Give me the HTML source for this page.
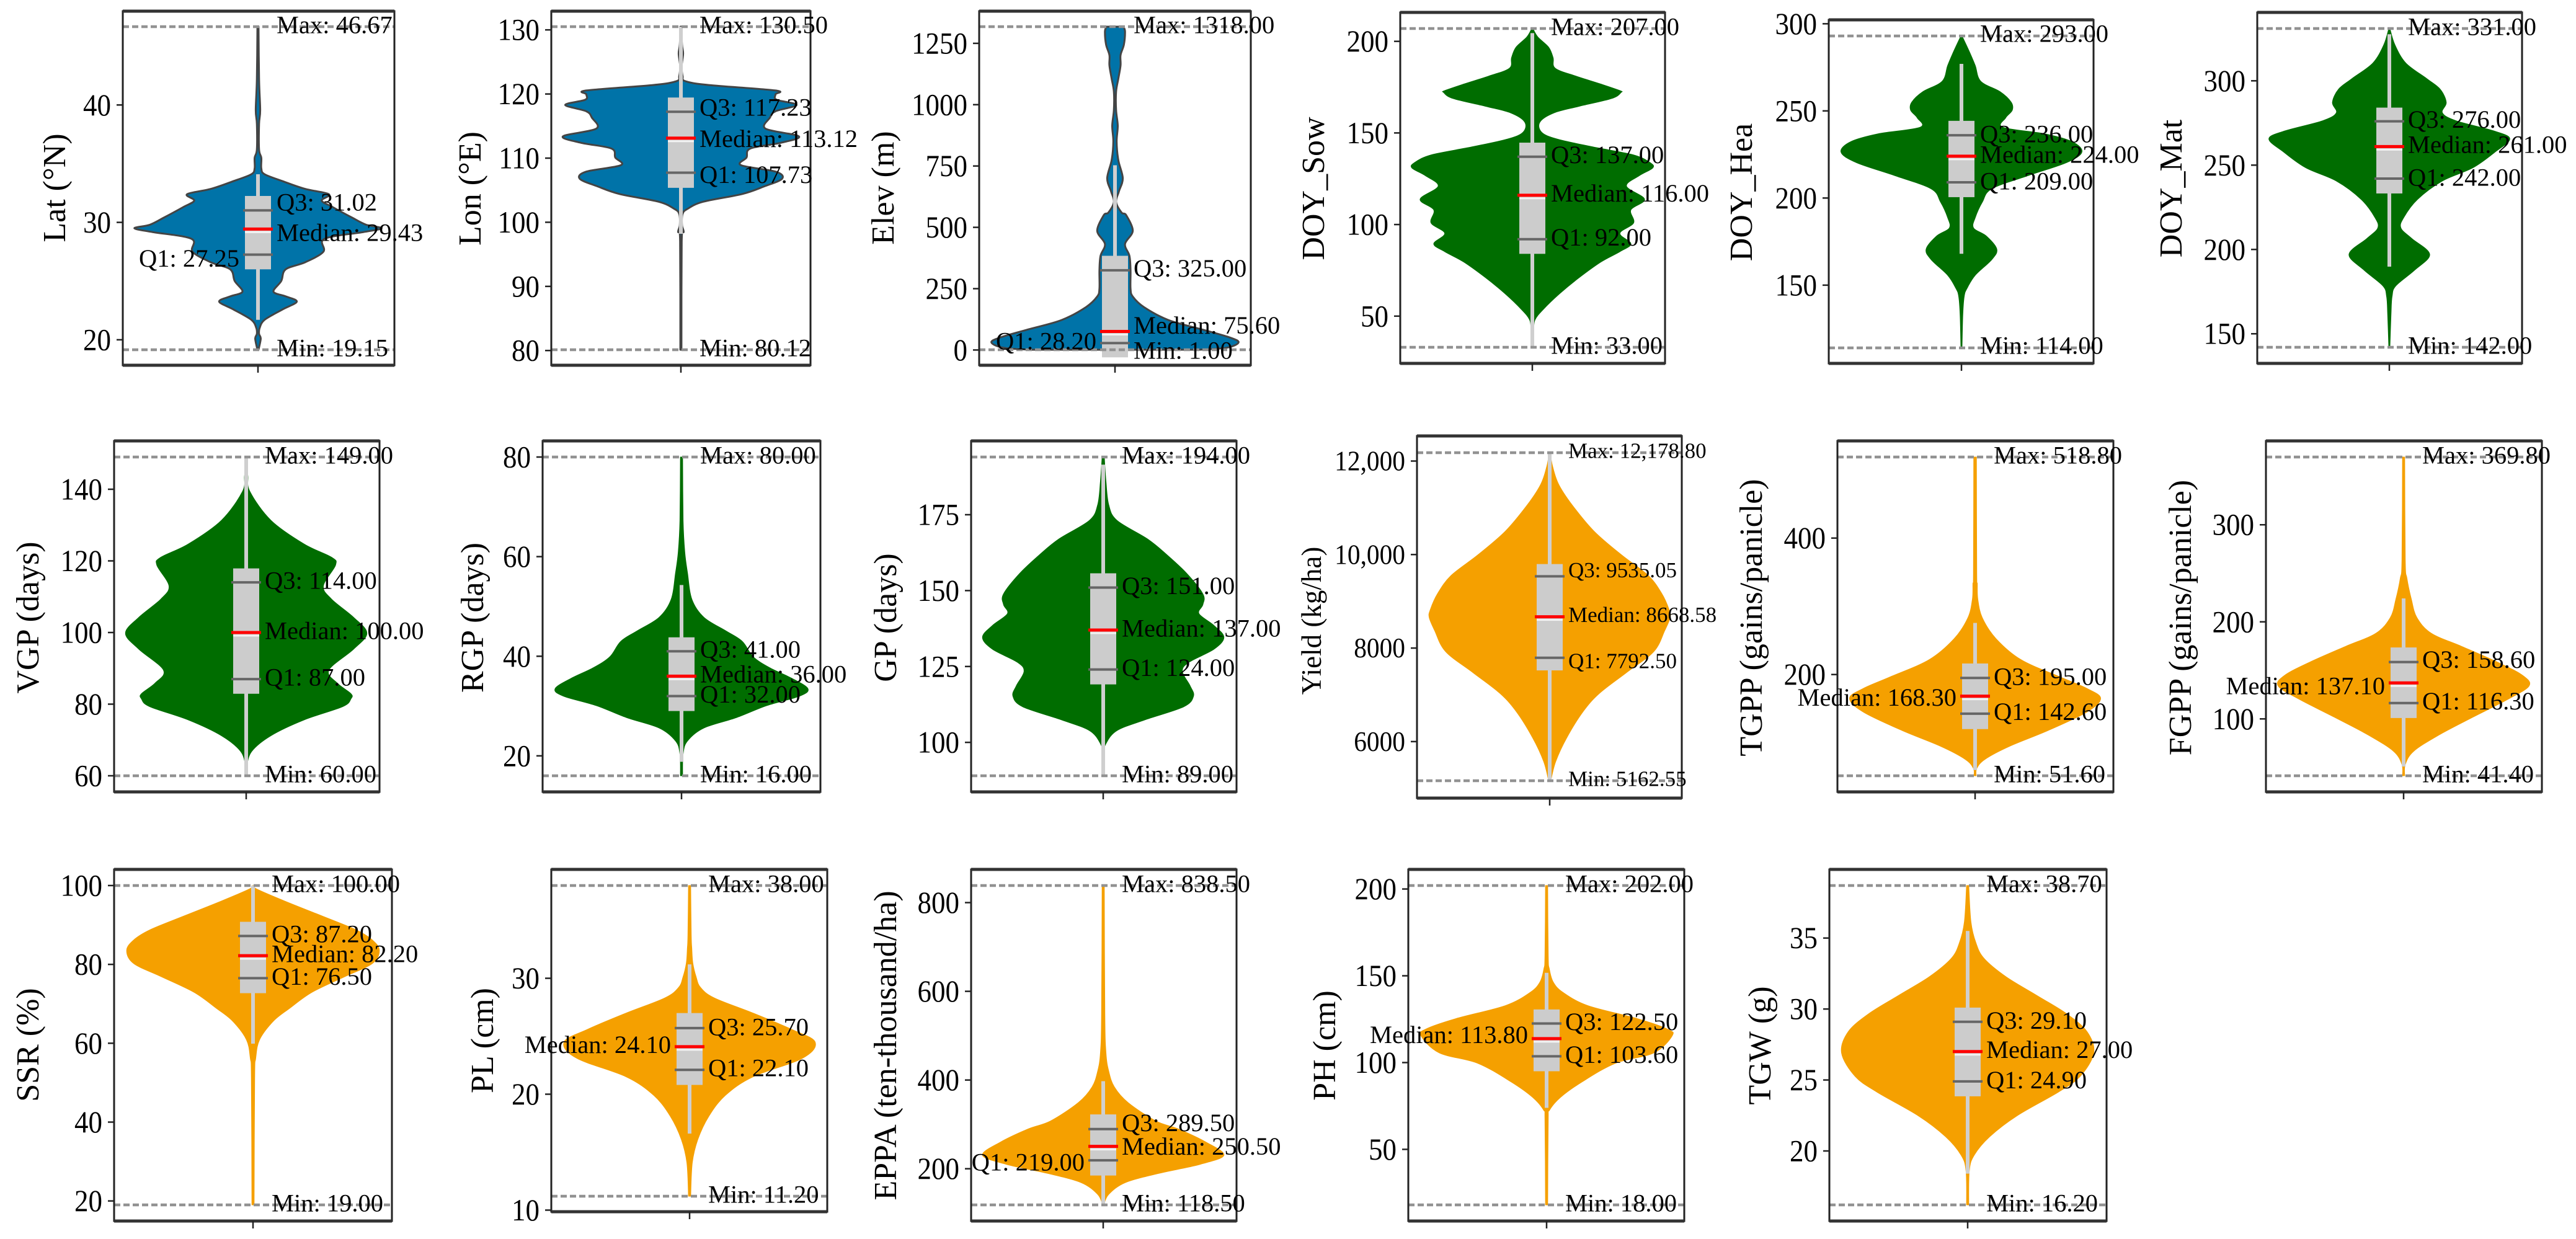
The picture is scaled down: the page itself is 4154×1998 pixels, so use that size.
<!DOCTYPE html>
<html lang="en">
<head>
<meta charset="utf-8">
<title>Violin plots of crop traits</title>
<style>
html,body{margin:0;padding:0;background:#fff;}
#chart{display:block;width:4154px;height:1998px;background:#fff;}
text{font-family:"Liberation Serif","Times New Roman",serif;fill:#000;}
</style>
</head>
<body>
<svg id="chart" xmlns="http://www.w3.org/2000/svg" width="4154" height="1998" viewBox="0 0 4154 1998"></svg>
<script>
// ---- DATA: stats = [min, q1, median, q3, max]; box = [low, high]; whisker = [low, high]
const latLevels=[46.67,42.2,39.56,38.4,36.2,35.5,34.6,34.1,33.5,32.85,32.4,31.85,31.3,30.4,29.8,29.5,29.17,28.6,27.5,26.6,26,25,24.1,23.7,23.25,22.6,21.7,21,20.5,20.1,19.15];
const latDensity=[1,2,4,2,2,6,6,12,45,85,128,115,135,170,195,223,190,120,118,85,50,42,28,50,70,45,12,3,2,5,0.5];
const latStats=[19.15,27.25,29.43,31.02,46.67];
const latBox=[26,32.25];
const latWhisker=[21.7,34.1];
const latTicks=[20,30,40];

const lonLevels=[130.5,127.7,126.3,124.4,122.8,122,121.4,120.55,119.94,119.1,118.3,117.3,116.3,114.6,113.4,112.4,111.5,110.1,108.9,107.9,106.8,105.6,104.4,103.2,102.1,101.3,99.5,98.5,97,80.12];
const lonDensity=[1,2,4,1.5,3,8,50,170,170,172,208,170,160,152,212,180,125,118,108,170,182,150,110,40,12,3,2,5,1.5,1];
const lonStats=[80.12,107.73,113.12,117.23,130.5];
const lonBox=[105.37,119.45];
const lonWhisker=[98.2,130.5];
const lonTicks=[80,90,100,110,120,130];

const elevLevels=[1318,1299,1245,1202,1160,1106,1053,978,914,849,774,700,646,603,560,550,486,432,384,325,250,218,175,122,84,52,31,9,1];
const elevDensity=[15,18,16,10,10,6,2,2,5,3,6,14,7,2,12,20,32,18,26,28,28,32,52,96,156,205,222,200,150];
const elevStats=[1,28.2,75.6,325,1318];
const elevBox=[-30,384];
const elevWhisker=[1,753];
const elevTicks=[0,250,500,750,1000,1250];

const sowLevels=[207,202.4,196.7,191,185.3,181,176.7,173.1,172.1,168.8,164.5,161,156,150.4,146.7,142.4,138,133.8,130.9,126.6,120.9,113.8,108,100.9,95.2,89.5,85.2,79.5,70.9,62.3,53.7,48,42.3,33];
const sowDensity=[0.5,10,30,38,42,80,125,160,162,145,85,40,14,17,45,110,185,215,220,195,172,205,180,185,160,180,160,125,85,50,20,5,2.5,1];
const sowStats=[33,92,116,137,207];
const sowBox=[84,144.7];
const sowWhisker=[33,204.5];
const sowTicks=[50,100,150,200];

const heaLevels=[293,283.5,276,267,261,255,250.4,246,240.6,236.9,232.4,226.4,220.3,212.8,205.3,197.8,188.8,182.8,178.2,170.7,164.7,155.7,148.1,143.6,133,114];
const heaDensity=[0.5,15,25,35,70,90,92,80,75,150,200,218,190,120,55,38,25,22,45,64,55,25,10,5,2.5,1];
const heaStats=[114,209,224,236,293];
const heaBox=[200.5,244.3];
const heaWhisker=[168,277];
const heaTicks=[150,200,250,300];

const matLevels=[331,321.4,310.5,301.2,295,287.2,281,276.3,270.1,265.5,257.7,248.4,240.6,229.7,218.9,212.7,206.4,197.1,187.8,178.5,172.3,161.4,142];
const matDensity=[0.5,10,30,68,92,103,96,121,191,218,191,151,96,51,26,21,41,73,46,12,5,3,1];
const matStats=[142,242,261,276,331];
const matBox=[233.2,284.1];
const matWhisker=[189.8,327.6];
const matTicks=[150,200,250,300];

const vgpLevels=[149,148.1,143.7,139.3,131.3,124.7,121,118.8,113,109.3,104.2,99.8,95.4,89.5,85.9,82.9,81.5,79.3,75.6,71.2,66.8,62.4,60];
const vgpDensity=[0.5,1,3,7,45,105,155,162,140,155,195,219,195,150,165,190,190,175,105,45,10,1,0.5];
const vgpStats=[60,87,100,114,149];
const vgpBox=[82.9,117.9];
const vgpWhisker=[60,149];
const vgpTicks=[60,80,100,120,140];

const rgpLevels=[80,67.2,60.9,56.7,51.4,47.8,45.1,43,39.9,37.7,35.6,33.5,32,30.1,27.7,25.6,23,20.4,16];
const rgpDensity=[2,3,6,11,19,41,81,111,131,161,201,231,216,156,101,41,11,3,2];
const rgpStats=[16,32,36,41,80];
const rgpBox=[29,43.8];
const rgpWhisker=[18.8,54.3];
const rgpTicks=[20,40,60,80];

const gpLevels=[194,186,178.3,173.1,167,161.8,155.8,148.9,145.4,142.4,138.5,134.6,130.7,126.4,123.4,118.6,115.2,111.7,107.4,103.9,99.6,96.2,89];
const gpDensity=[2,5,10,25,80,115,150,180,180,173,200,218,200,155,143,157,163,145,75,25,5,1,1];
const gpStats=[89,124,137,151,194];
const gpBox=[119.1,155.7];
const gpWhisker=[89,191.5];
const gpTicks=[100,125,150,175];

const yieldLevels=[12178.8,11904,11512,11064,10503,9999,9551,9158,8822,8654,8374,7925,7477,7029,6637,6076,5572,5162.55];
const yieldDensity=[0.5,5,16,41,81,131,181,206,219,221,211,191,141,91,61,31,11,2];
const yieldStats=[5162.55,7792.5,8668.58,9535.05,12178.8];
const yieldBox=[7522,9797];
const yieldWhisker=[5162.55,12178.8];
const yieldTicks=[6000,8000,10000,12000];

const tgppLevels=[518.8,348.8,333,310.4,283.4,252.6,221.9,196.9,179.6,165,145,118.1,95,75.8,62.3,51.6];
const tgppDensity=[2.5,3,4,5,13,38,83,153,203,228,203,133,63,18,3,2];
const tgppStats=[51.6,142.6,168.3,195,518.8];
const tgppBox=[120,216.2];
const tgppWhisker=[60,275.7];
const tgppTicks=[200,400];

const fgppLevels=[369.8,263.9,244.9,223.3,204.4,188.2,174.7,158.4,144.9,134.1,120.6,101.7,82.8,66.6,53,41.4];
const fgppDensity=[2,3,6,14,24,50,105,170,215,227,190,125,62,18,3,2];
const fgppStats=[41.4,116.3,137.1,158.6,369.8];
const fgppBox=[100.9,173.6];
const fgppWhisker=[50.9,224.1];
const fgppTicks=[100,200,300];

const ssrLevels=[100,99.1,96.1,92.2,88.8,86.2,83.5,80.2,76.9,72.9,68.9,65.6,60.9,56.2,50.9,19];
const ssrDensity=[1,7,57,127,187,217,230,217,167,107,67,37,12,5,3,2];
const ssrStats=[19,76.5,82.2,87.2,100];
const ssrBox=[72.7,90.8];
const ssrWhisker=[59.9,100];
const ssrTicks=[20,40,60,80,100];

const plLevels=[38,33.75,32.6,31.3,30.1,29.2,28.3,27,25.6,24.5,23.1,21.5,19.9,18.1,16.1,14.1,11.2];
const plDensity=[2,3,4,6,12,20,45,115,185,228,205,115,65,35,15,5,2];
const plStats=[11.2,22.1,24.1,25.7,38];
const plBox=[20.8,27];
const plWhisker=[16.6,31.2];
const plTicks=[10,20,30];

const eppaLevels=[838.5,550,461.4,420,384.5,349,307.7,290,260.4,230.8,210,189.4,168.8,142.2,118.5];
const eppaDensity=[2,3,5,10,20,45,95,135,185,218,175,100,40,10,1];
const eppaStats=[118.5,219,250.5,289.5,838.5];
const eppaBox=[184.7,322.5];
const eppaWhisker=[115.5,397.5];
const eppaTicks=[200,400,600,800];

const phLevels=[202,161.5,154,146.4,140.4,132.8,125.3,119.2,115.4,105.6,99.6,89,79.9,72.4,67.9,18];
const phDensity=[2,3,5,12,30,75,165,220,228,195,125,65,25,5,3,2];
const phStats=[18,103.6,113.8,122.5,202];
const phBox=[95,130.6];
const phWhisker=[73.9,151.7];
const phTicks=[50,100,150,200];

const tgwLevels=[38.7,36.15,34.67,33.56,32.27,30.98,29.68,28.39,26.91,25.25,24.14,22.48,21,19.71,18.6,16.2];
const tgwDensity=[2,6,15,30,70,125,180,218,230,205,165,90,40,12,3,2];
const tgwStats=[16.2,24.9,27,29.1,38.7];
const tgwBox=[23.85,30.1];
const tgwWhisker=[18.4,35.5];
const tgwTicks=[20,25,30,35];

// ---- COLOURS
const BLUE='#0073a8', GREEN='#006d00', ORANGE='#f5a000';

// ---- LAYOUT: axes box in px, plus px anchors for the y axis (scale top/bottom)
const R1={t:18,b:589,a:43,c:564}, R1b={t:20,b:586,a:46,c:560}, R2={t:711,b:1277,a:737,c:1251}, R3={t:1402,b:1969,a:1428,c:1943};
const panels=[
 {id:'lat',title:'Lat (°N)',color:BLUE,stroke:true,x0:198,x1:636,cx:416,row:R1,tx:89,ty:303,lv:latLevels,de:latDensity,st:latStats,bx:latBox,wh:latWhisker,ti:latTicks,dom:[19.15,46.67],q1L:true,off:[-3,6,6,-13,-3]},
 {id:'lon',title:'Lon (°E)',color:BLUE,stroke:true,x0:889,x1:1307,cx:1098,row:R1,tx:759,ty:304,lv:lonLevels,de:lonDensity,st:lonStats,bx:lonBox,wh:lonWhisker,ti:lonTicks,dom:[80.12,130.5],off:[-3,3,1,-7,-3]},
 {id:'elev',title:'Elev (m)',color:BLUE,stroke:true,x0:1579,x1:2017,cx:1798,row:R1,tx:1425,ty:303,lv:elevLevels,de:elevDensity,st:elevStats,bx:elevBox,wh:elevWhisker,ti:elevTicks,dom:[1,1318],q1L:true,off:[1,-3,-10,-3,-3]},
 {id:'doy-sow',title:'DOY_Sow',color:GREEN,x0:2258,x1:2685,cx:2471,row:R1b,tx:2119,ty:304,lv:sowLevels,de:sowDensity,st:sowStats,bx:sowBox,wh:sowWhisker,ti:sowTicks,dom:[33,207],off:[-3,-3,-3,-3,-3]},
 {id:'doy-hea',title:'DOY_Hea',color:GREEN,x0:2949,x1:3376,cx:3163,row:{t:32,b:586,a:58,c:561},tx:2809,ty:310,lv:heaLevels,de:heaDensity,st:heaStats,bx:heaBox,wh:heaWhisker,ti:heaTicks,dom:[114,293],off:[-4,-2,-3,-2,-4]},
 {id:'doy-mat',title:'DOY_Mat',color:GREEN,x0:3640,x1:4067,cx:3853,row:R1b,tx:3502,ty:304,lv:matLevels,de:matDensity,st:matStats,bx:matBox,wh:matWhisker,ti:matTicks,dom:[142,331],off:[-3,-2,-3,-3,-3]},
 {id:'vgp',title:'VGP (days)',color:GREEN,x0:184,x1:612,cx:397,row:R2,tx:46,ty:996,lv:vgpLevels,de:vgpDensity,st:vgpStats,bx:vgpBox,wh:vgpWhisker,ti:vgpTicks,dom:[60,149],off:[-3,-3,-3,-3,-3]},
 {id:'rgp',title:'RGP (days)',color:GREEN,x0:875,x1:1323,cx:1099,row:R2,tx:763,ty:996,lv:rgpLevels,de:rgpDensity,st:rgpStats,bx:rgpBox,wh:rgpWhisker,ti:rgpTicks,dom:[16,80],off:[-3,-3,-3,-3,-3]},
 {id:'gp',title:'GP (days)',color:GREEN,x0:1566,x1:1994,cx:1779,row:R2,tx:1429,ty:996,lv:gpLevels,de:gpDensity,st:gpStats,bx:gpBox,wh:gpWhisker,ti:gpTicks,dom:[89,194],off:[-3,-3,-3,-3,-3]},
 {id:'yield',title:'Yield (kg/ha)',color:ORANGE,titleSize:45,labelSize:35,x0:2285,x1:2712,cx:2499,row:{t:703,b:1287,a:730,c:1259},tx:2114,ty:1001,lv:yieldLevels,de:yieldDensity,st:yieldStats,bx:yieldBox,wh:yieldWhisker,ti:yieldTicks,tickSize:46,dom:[5162.55,12178.8],off:[-3,5,-3,-10,-3]},
 {id:'tgpp',title:'TGPP (gains/panicle)',color:ORANGE,x0:2963,x1:3408,cx:3185,row:R2,tx:2825,ty:996,lv:tgppLevels,de:tgppDensity,st:tgppStats,bx:tgppBox,wh:tgppWhisker,ti:tgppTicks,dom:[51.6,518.8],medL:true,off:[-3,-3,2,-2,-3]},
 {id:'fgpp',title:'FGPP (gains/panicle)',color:ORANGE,x0:3654,x1:4099,cx:3876,row:R2,tx:3517,ty:996,lv:fgppLevels,de:fgppDensity,st:fgppStats,bx:fgppBox,wh:fgppWhisker,ti:fgppTicks,dom:[41.4,369.8],medL:true,off:[-3,-3,5,-4,-3]},
 {id:'ssr',title:'SSR (%)',color:ORANGE,x0:184,x1:632,cx:408,row:R3,tx:46,ty:1685,lv:ssrLevels,de:ssrDensity,st:ssrStats,bx:ssrBox,wh:ssrWhisker,ti:ssrTicks,dom:[19,100],off:[-3,-3,-3,-3,-3]},
 {id:'pl',title:'PL (cm)',color:ORANGE,x0:889,x1:1334,cx:1112,row:{t:1402,b:1954,a:1428,c:1929},tx:779,ty:1678,lv:plLevels,de:plDensity,st:plStats,bx:plBox,wh:plWhisker,ti:plTicks,dom:[11.2,38],medL:true,off:[-3,-3,-3,-2,-3]},
 {id:'eppa',title:'EPPA (ten-thousand/ha)',color:ORANGE,x0:1566,x1:1994,cx:1779,row:R3,tx:1429,ty:1686,lv:eppaLevels,de:eppaDensity,st:eppaStats,bx:eppaBox,wh:eppaWhisker,ti:eppaTicks,dom:[118.5,838.5],q1L:true,off:[-3,3,0,-10,-3]},
 {id:'ph',title:'PH (cm)',color:ORANGE,x0:2271,x1:2716,cx:2494,row:R3,tx:2137,ty:1686,lv:phLevels,de:phDensity,st:phStats,bx:phBox,wh:phWhisker,ti:phTicks,dom:[18,202],medL:true,off:[-3,-3,-6,-3,-3]},
 {id:'tgw',title:'TGW (g)',color:ORANGE,x0:2950,x1:3397,cx:3173,row:R3,tx:2839,ty:1686,lv:tgwLevels,de:tgwDensity,st:tgwStats,bx:tgwBox,wh:tgwWhisker,ti:tgwTicks,dom:[16.2,38.7],off:[-3,-2,-3,-2,-3]}
];

const NS='http://www.w3.org/2000/svg';
const root=document.getElementById('chart');
function make(tag,attrs,parent){
  const el=document.createElementNS(NS,tag);
  for(const k in attrs){el.setAttribute(k,attrs[k]);}
  parent.appendChild(el);
  return el;
}
function fmt(v){
  const s=v.toFixed(2);
  if(v<10000)return s;
  const p=s.split('.');
  return p[0].replace(/\B(?=(\d{3})+$)/g,',')+'.'+p[1];
}
function fmtTick(v){
  return v>=10000?String(v).replace(/\B(?=(\d{3})+$)/g,','):String(v);
}
function smooth(pts){
  let d='';
  for(let i=0;i<pts.length-1;i++){
    const p0=pts[Math.max(i-1,0)],p1=pts[i],p2=pts[i+1],p3=pts[Math.min(i+2,pts.length-1)];
    const c1x=p1[0]+(p2[0]-p0[0])/6,c1y=p1[1]+(p2[1]-p0[1])/6;
    const c2x=p2[0]-(p3[0]-p1[0])/6,c2y=p2[1]-(p3[1]-p1[1])/6;
    d+=' C'+c1x.toFixed(1)+' '+c1y.toFixed(1)+' '+c2x.toFixed(1)+' '+c2y.toFixed(1)+' '+p2[0].toFixed(1)+' '+p2[1].toFixed(1);
  }
  return d;
}
function drawPanel(p){
  const g=make('g',{},root);
  
  
  const yScale=v=>p.row.a+(p.dom[1]-v)/(p.dom[1]-p.dom[0])*(p.row.c-p.row.a);
  const maxD=Math.max(...p.de);
  const wScale=d=>Math.max(0.9,d/maxD*0.455*(p.x1-p.x0));

  // violin body
  const right=p.lv.map((v,i)=>[p.cx+wScale(p.de[i]),yScale(v)]);
  const left=p.lv.map((v,i)=>[p.cx-wScale(p.de[i]),yScale(v)]).reverse();
  const dPath='M'+right[0][0].toFixed(1)+' '+right[0][1].toFixed(1)+smooth(right)+' L'+left[0][0].toFixed(1)+' '+left[0][1].toFixed(1)+smooth(left)+' Z';
  const violin=make('path',{d:dPath,fill:p.color,stroke:p.stroke?'#444':p.color,'stroke-width':p.stroke?3:1,'stroke-linejoin':'round'},g);
  
  

  // whisker
  const whisker=make('line',{x1:p.cx,x2:p.cx,y1:yScale(p.wh[1]),y2:yScale(p.wh[0]),stroke:'#cfcfcf','stroke-width':6},g);
  
  

  // box
  const box=make('rect',{x:p.cx-21,width:42,y:yScale(p.bx[1]),height:yScale(p.bx[0])-yScale(p.bx[1]),fill:'#cccccc'},g);
  
  

  // quartile lines
  const q1Line=make('line',{x1:p.cx-24,x2:p.cx+24,y1:yScale(p.st[1]),y2:yScale(p.st[1]),stroke:'#666','stroke-width':4},g);
  
  
  const q3Line=make('line',{x1:p.cx-24,x2:p.cx+24,y1:yScale(p.st[3]),y2:yScale(p.st[3]),stroke:'#666','stroke-width':4},g);
  
  
  const halo=make('line',{x1:p.cx-21,x2:p.cx+21,y1:yScale(p.st[2])+5,y2:yScale(p.st[2])+5,stroke:'#f2f2f2','stroke-width':3},g);
  
  
  const medLine=make('line',{x1:p.cx-24,x2:p.cx+24,y1:yScale(p.st[2]),y2:yScale(p.st[2]),stroke:'#ff0000','stroke-width':5},g);
  
  

  // dashed min / max lines
  const maxLine=make('line',{x1:p.x0,x2:p.x1,y1:yScale(p.st[4]),y2:yScale(p.st[4]),stroke:'#929292','stroke-width':4.5,'stroke-dasharray':'10 5'},g);
  
  
  const minLine=make('line',{x1:p.x0,x2:p.x1,y1:yScale(p.st[0]),y2:yScale(p.st[0]),stroke:'#929292','stroke-width':4.5,'stroke-dasharray':'10 5'},g);
  
  

  // axes frame (top and bottom spines read heavier than the sides)
  const frame=make('rect',{x:p.x0,y:p.row.t,width:p.x1-p.x0,height:p.row.b-p.row.t,fill:'none',stroke:'#222','stroke-width':3},g);
  
  
  const topSpine=make('line',{x1:p.x0,x2:p.x1,y1:p.row.t,y2:p.row.t,stroke:'#333','stroke-width':5},g);
  
  
  const bottomSpine=make('line',{x1:p.x0,x2:p.x1,y1:p.row.b,y2:p.row.b,stroke:'#333','stroke-width':5},g);
  
  

  // ticks
  p.ti.forEach(function(t){
    const y=yScale(t);
    const mark=make('line',{x1:p.x0-10,x2:p.x0,y1:y,y2:y,stroke:'#222','stroke-width':2.5},g);
    
    
    const size=p.tickSize||50;
    const lab=make('text',{'text-anchor':'end','font-size':size,transform:'translate('+(p.x0-19)+','+(y+size*0.33)+') scale(0.9,1)'},g);
    lab.textContent=fmtTick(t);
    
    
  });
  const xTick=make('line',{x1:p.cx,x2:p.cx,y1:p.row.b,y2:p.row.b+12,stroke:'#222','stroke-width':2.5},g);
  
  

  // y-axis title
  const title=make('text',{'text-anchor':'middle','font-size':p.titleSize||52,transform:'translate('+(p.tx+16)+','+p.ty+') rotate(-90)'},g);
  title.textContent=p.title;
  
  

  // value labels
  const names=['Min','Q1','Median','Q3','Max'];
  const size=p.labelSize||40.5;
  names.forEach(function(n,i){
    const isLeft=(n==='Q1'&&p.q1L)||(n==='Median'&&p.medL);
    const y=yScale(p.st[i])+p.off[i]+size*0.33;
    const lab=make('text',{x:isLeft?p.cx-30:p.cx+30,y:y,'font-size':size,'text-anchor':isLeft?'end':'start'},g);
    lab.textContent=n+': '+fmt(p.st[i]);
    
    
  });
}
panels.forEach(drawPanel);
</script>
</body>
</html>
